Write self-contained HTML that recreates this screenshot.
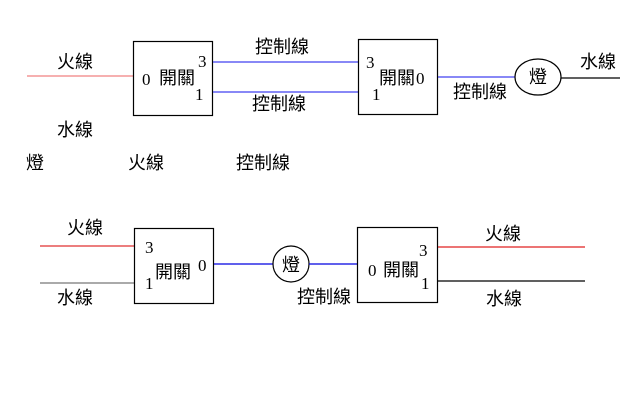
<!DOCTYPE html>
<html><head><meta charset="utf-8"><style>
html,body{margin:0;padding:0;background:#fff;}
svg text{font-family:"Liberation Serif","Noto Sans CJK TC",serif;font-size:17px;fill:#000;}
.c{font-family:"Liberation Sans","Noto Sans CJK TC",sans-serif;font-size:18px;}
</style></head><body>
<svg width="640" height="400" xmlns="http://www.w3.org/2000/svg">
<g stroke-width="1.2" fill="none">
<line x1="27" y1="76" x2="133" y2="76" stroke="#f08080"/>
<rect x="133.5" y="41.5" width="79" height="74" stroke="#000"/>
<line x1="213" y1="62" x2="358" y2="62" stroke="#4040f0"/>
<line x1="213" y1="92" x2="358" y2="92" stroke="#4040f0"/>
<rect x="358.5" y="39.5" width="79" height="75" stroke="#000"/>
<line x1="438" y1="77" x2="515" y2="77" stroke="#4040f0"/>
<ellipse cx="538" cy="77" rx="23" ry="18" stroke="#000"/>
<line x1="561" y1="78" x2="620" y2="78" stroke="#000"/>

<line x1="40" y1="246" x2="134" y2="246" stroke="#e03030"/>
<line x1="40" y1="283" x2="134" y2="283" stroke="#777"/>
<rect x="134.5" y="228.5" width="79" height="75" stroke="#000"/>
<line x1="214" y1="264" x2="273" y2="264" stroke="#0000e0"/>
<circle cx="291" cy="264" r="18" stroke="#000"/>
<line x1="309" y1="264" x2="357" y2="264" stroke="#0000e0"/>
<rect x="357.5" y="227.5" width="80" height="75" stroke="#000"/>
<line x1="438" y1="247" x2="585" y2="247" stroke="#e02020"/>
<line x1="438" y1="281" x2="585" y2="281" stroke="#000"/>
</g>

<text class="c" x="57" y="68">火線</text>
<text class="c" x="57" y="136">水線</text>
<text class="c" x="26" y="169">燈</text>
<text class="c" x="128" y="169">火線</text>
<text class="c" x="236" y="169">控制線</text>
<text class="c" x="255" y="53">控制線</text>
<text class="c" x="252" y="110">控制線</text>
<text x="142" y="85">0</text>
<text class="c" x="159" y="84">開關</text>
<text x="198" y="67">3</text>
<text x="195" y="100">1</text>
<text x="366" y="68">3</text>
<text x="372" y="100">1</text>
<text class="c" x="379" y="84">開關</text>
<text x="416" y="84">0</text>
<text class="c" x="453" y="98">控制線</text>
<text class="c" x="529" y="83">燈</text>
<text class="c" x="580" y="68">水線</text>

<text class="c" x="67" y="234">火線</text>
<text class="c" x="57" y="304">水線</text>
<text x="145" y="253">3</text>
<text x="145" y="289">1</text>
<text class="c" x="155" y="278">開關</text>
<text x="198" y="271">0</text>
<text class="c" x="282" y="271">燈</text>
<text class="c" x="297" y="303">控制線</text>
<text x="368" y="276">0</text>
<text class="c" x="383" y="276">開關</text>
<text x="419" y="256">3</text>
<text x="421" y="289">1</text>
<text class="c" x="485" y="240">火線</text>
<text class="c" x="486" y="305">水線</text>
</svg>
</body></html>
